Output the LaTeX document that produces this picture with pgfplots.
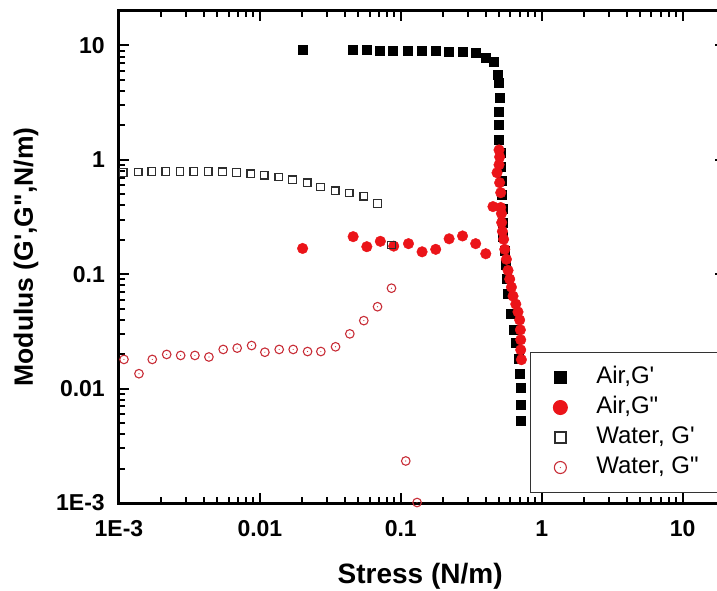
\documentclass[border=0pt]{standalone}
\usepackage{pgfplots}
\pgfplotsset{compat=1.18}
\usepackage{fontspec}
\setmainfont{Liberation Sans}

\definecolor{airred}{RGB}{235,20,25}
\definecolor{watred}{RGB}{200,45,55}
\definecolor{watgray}{RGB}{45,45,45}

% open circle with a small dot in the centre
\pgfdeclareplotmark{odot}{%
  \pgfpathcircle{\pgfpointorigin}{\pgfplotmarksize}\pgfusepathqstroke
  \pgfpathcircle{\pgfpointorigin}{0.6pt}\pgfusepathqfill}

\newcommand{\tickfont}{\fontsize{23}{27}\selectfont\bfseries}

\begin{document}
\begin{tikzpicture}
\begin{axis}[
  scale only axis,
  width=606pt, height=492pt,
  xmode=log, ymode=log,
  xmin=1e-3, xmax=20, ymin=1e-3, ymax=20,
  xtick={0.001,0.01,0.1,1,10},
  xticklabels={1E-3,0.01,0.1,1,10},
  ytick={0.001,0.01,0.1,1,10},
  yticklabels={1E-3,0.01,0.1,1,10},
  minor xtick={0.002,0.003,0.004,0.005,0.006,0.007,0.008,0.009,
               0.02,0.03,0.04,0.05,0.06,0.07,0.08,0.09,
               0.2,0.3,0.4,0.5,0.6,0.7,0.8,0.9,2,3,4,5,6,7,8,9},
  minor ytick={0.002,0.003,0.004,0.005,0.006,0.007,0.008,0.009,
               0.02,0.03,0.04,0.05,0.06,0.07,0.08,0.09,
               0.2,0.3,0.4,0.5,0.6,0.7,0.8,0.9,2,3,4,5,6,7,8,9},
  tick align=inside,
  major tick length=10pt, minor tick length=6pt,
  every tick/.style={black, line width=2pt},
  axis line style={line width=3pt},
  xticklabel style={font=\tickfont, inner sep=0pt, anchor=base, yshift=-33pt},
  yticklabel style={font=\tickfont, inner sep=0pt, anchor=east, xshift=-14pt},
  xlabel={Stress (N/m)},
  ylabel={Modulus (G\textquotesingle,G\textquotedbl,N/m)},
  xlabel style={font=\fontsize{28}{32}\selectfont\bfseries, inner sep=0pt,
    at={(axis description cs:0.497,-0.1626)}, anchor=base},
  ylabel style={font=\fontsize{26.5}{30}\selectfont\bfseries, inner sep=0pt,
    at={(axis description cs:-0.1535,0.5)}, anchor=center, rotate=0},
  % marker alone, centred in a 44pt wide slot
  legend image code/.code={%
    \path[draw=none,fill=none] (0pt,0pt) (44pt,0pt);
    \draw[mark repeat=2,mark phase=2,#1] plot coordinates {(0pt,0pt) (22pt,0pt) (44pt,0pt)};},
  legend cell align=left,
  legend style={at={(axis description cs:0.678,0.0203)}, anchor=south west,
    draw=black!80, line width=1pt, fill=white,
    inner xsep=8pt, inner ysep=10pt, column sep=14pt, row sep=0pt,
    font=\fontsize{24}{28}\selectfont,
    nodes={text height=17pt, text depth=5pt, inner ysep=4pt, inner xsep=0pt}},
]

% Air, G' (storage modulus at the air interface)
\addplot[only marks, mark=square*, mark size=4.5pt, color=black,
  legend image post style={mark size=6pt}] table {
0.0201  9.23
0.0459  9.23
0.0577  9.23
0.0710  8.99
0.0881  8.99
0.1117  8.99
0.1403  8.99
0.1762  8.99
0.2203  8.87
0.2743  8.81
0.339   8.57
0.399   7.82
0.459   7.16
0.485   5.60
0.498   4.70
0.503   3.51
0.498   2.63
0.498   2.01
0.498   1.51
0.508   1.15
0.512   0.869
0.516   0.657
0.520   0.496
0.525   0.375
0.529   0.283
0.533   0.214
0.542   0.162
0.551   0.122
0.560   0.0906
0.574   0.0670
0.600   0.0449
0.632   0.0328
0.655   0.0251
0.690   0.0182
0.698   0.0135
0.706   0.0101
0.706   0.00726
0.710   0.00527
};
\addlegendentry{\makebox[140pt][l]{Air,G\textquotesingle}}

% Air, G'' (loss modulus at the air interface)
\addplot[only marks, mark=*, mark size=5.3pt, color=airred,
  legend image post style={mark size=7pt}] table {
0.0201  0.168
0.0459  0.213
0.0574  0.174
0.0716  0.194
0.0891  0.176
0.1134  0.185
0.1416  0.157
0.177   0.165
0.2203  0.204
0.2743  0.216
0.340   0.185
0.401   0.151
0.498   1.22
0.503   1.06
0.498   0.905
0.482   0.771
0.503   0.631
0.512   0.516
0.451   0.390
0.512   0.383
0.518   0.339
0.520   0.283
0.526   0.237
0.537   0.202
0.547   0.165
0.562   0.135
0.577   0.108
0.593   0.0906
0.610   0.0771
0.626   0.0644
0.655   0.0548
0.679   0.0468
0.698   0.0398
0.706   0.0326
0.710   0.0267
0.710   0.0218
0.718   0.0179
};
\addlegendentry{Air,G\textquotedbl}

% Water, G'
\addplot[only marks, mark=square, mark size=3.8pt, line width=1.3pt, color=watgray,
  legend image post style={mark size=5.5pt}] table {
0.001073 0.775
0.001371 0.782
0.001706 0.791
0.002154 0.791
0.002708 0.791
0.003404 0.791
0.004298 0.791
0.005438 0.787
0.006835 0.775
0.008636 0.756
0.01073  0.736
0.01364  0.708
0.01706  0.670
0.02165  0.631
0.02695  0.579
0.0342   0.537
0.04298  0.513
0.05464  0.480
0.06839  0.414
0.0859   0.180
};
\addlegendentry{Water, G\textquotesingle}

% Water, G''
\addplot[only marks, mark=odot, mark size=4.3pt, line width=1.1pt, color=watred,
  legend image post style={mark size=6pt}] table {
0.001085 0.0180
0.001386 0.0135
0.001723 0.0180
0.002180 0.0199
0.002739 0.0195
0.003459 0.0195
0.004347 0.0189
0.005491 0.0220
0.006902 0.0226
0.008733 0.0238
0.01085  0.0208
0.01371  0.0220
0.01723  0.0220
0.02180  0.0211
0.02708  0.0211
0.03443  0.0232
0.04348  0.0301
0.05464  0.0393
0.06839  0.0520
0.0859   0.0755
0.1085   0.00233
0.1305   0.00101
};
\addlegendentry{Water, G\textquotedbl}
\end{axis}
\pgfresetboundingbox
\useasboundingbox (-119pt,-88pt) rectangle (598pt,503pt);
\end{tikzpicture}
\end{document}
